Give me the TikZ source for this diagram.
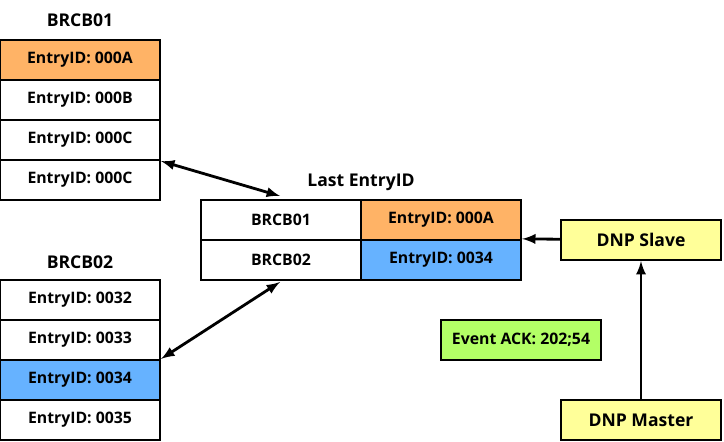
\documentclass[tikz,border=0pt]{standalone}
\usepackage{fontspec}
\setmainfont{Open Sans}
\usetikzlibrary{positioning}
\definecolor{entryorange}{HTML}{FFB366}
\definecolor{entryblue}{HTML}{66B2FF}
\definecolor{dnpyellow}{HTML}{FFFF99}
\definecolor{ackgreen}{HTML}{B3FF66}
\tikzset{font=\bfseries\fontsize{9}{11}\selectfont}
\tikzstyle{cell}=[draw,line width=1.3pt,minimum width=3.2cm,minimum height=0.8cm,inner sep=0pt]
\tikzstyle{title}=[inner sep=0pt,font=\bfseries\fontsize{10}{12}\selectfont]
\tikzstyle{link}=[line width=1.6pt,-latex]
\begin{document}
\begin{tikzpicture}[x=0.02cm,y=-0.02cm]
	\useasboundingbox (0,0) rectangle (724,442);
	% first report block
	\node [style=title] (t1) at (80,20) {BRCB01};
	\node [style=cell,fill=entryorange] (a1) at (80,60) {EntryID: 000A};
	\node [style=cell] (a2) at (80,100) {EntryID: 000B};
	\node [style=cell] (a3) at (80,140) {EntryID: 000C};
	\node [style=cell] (a4) at (80,180) {EntryID: 000C};
	% second report block
	\node [style=title] (t2) at (80,262) {BRCB02};
	\node [style=cell] (b1) at (80,300) {EntryID: 0032};
	\node [style=cell] (b2) at (80,340) {EntryID: 0033};
	\node [style=cell,fill=entryblue] (b3) at (80,380) {EntryID: 0034};
	\node [style=cell] (b4) at (80,420) {EntryID: 0035};
	% last entry table
	\node [style=title] (t3) at (361,182) {Last EntryID};
	\node [style=cell] (l1) at (281,220) {BRCB01};
	\node [style=cell,fill=entryorange] (l2) at (441,220) {EntryID: 000A};
	\node [style=cell] (l3) at (281,260) {BRCB02};
	\node [style=cell,fill=entryblue] (l4) at (441,260) {EntryID: 0034};
	% dnp side
	\node [style=cell,fill=dnpyellow,font=\bfseries\fontsize{10}{12}\selectfont] (slave) at (641,240) {DNP Slave};
	\node [style=cell,fill=dnpyellow,font=\bfseries\fontsize{10}{12}\selectfont] (master) at (641,420) {DNP Master};
	\node [style=cell,fill=ackgreen] (ack) at (521,340) {Event ACK: 202;54};
	% links
	\coordinate (c1) at (280,196);
	\coordinate (c2) at (280,282);
	\draw[style=link,latex-latex] (a3.south east) -- (c1);
	\draw[style=link,latex-latex] (b3.north east) -- (c2);
	\draw[style=link] (slave) -- (l4.north east);
	\draw[style=link] (master) -- (slave);
\end{tikzpicture}
\end{document}
